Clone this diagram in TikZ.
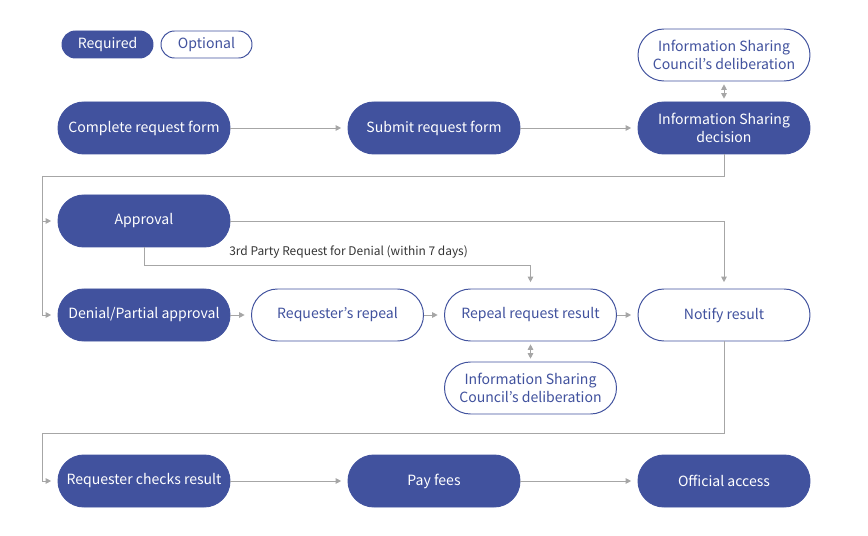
\documentclass[tikz,border=0pt]{standalone}
\usepackage{fontspec}
\setmainfont{Noto Sans CJK KR}
\usetikzlibrary{arrows.meta}
\definecolor{navy}{RGB}{65,82,158}
\definecolor{wire}{RGB}{166,166,166}
\definecolor{ink}{RGB}{51,51,51}
\tikzset{
  req/.style={draw=navy, fill=navy, text=white, line width=0.7pt, rounded corners=0.65cm,
    minimum width=4.3cm, minimum height=1.3cm, inner sep=0pt, align=center,
    font=\fontsize{10}{12.8}\selectfont},
  opt/.style={req, fill=white, text=navy},
  tag/.style={draw=navy, line width=0.7pt, rounded corners=0.3375cm,
    minimum width=2.275cm, minimum height=0.675cm, inner sep=0pt,
    font=\fontsize{10}{12.8}\selectfont},
  flow/.style={draw=wire, line width=0.7pt, -{Triangle[length=4pt,width=4pt]}, shorten >=4.5pt},
  both/.style={draw=wire, line width=0.7pt, {Triangle[length=4pt,width=4pt]}-{Triangle[length=4pt,width=4pt]},
    shorten >=2pt, shorten <=2pt},
  lbl/.style={text=ink, inner sep=0pt, font=\fontsize{8.5}{10}\selectfont}
}
\begin{document}
\begin{tikzpicture}
      \useasboundingbox (0,0) rectangle (21.7,-13.4);

      % legend
      \node[tag, fill=navy, text=white] (REQ) at (2.6875, -1.1125) {Required};
      \node[tag, fill=white, text=navy] (OPT) at (5.1625, -1.1125) {Optional};

      % steps
      \node[req] (CRF) at (3.6, -3.2) {Complete request form};
      \node[req] (SRF) at (10.85, -3.2) {Submit request form};
      \node[req] (ISD) at (18.1, -3.2) {Information Sharing\\decision};
      \node[opt] (ICD) at (18.1, -1.375) {Information Sharing\\Council’s deliberation};
      \node[req] (APP) at (3.6, -5.525) {Approval};
      \node[req] (DEN) at (3.6, -7.875) {Denial/Partial approval};
      \node[opt] (RRP) at (8.4375, -7.875) {Requester’s repeal};
      \node[opt] (RRR) at (13.2625, -7.875) {Repeal request result};
      \node[opt] (NTF) at (18.1, -7.875) {Notify result};
      \node[opt] (ICDB) at (13.2625, -9.7) {Information Sharing\\Council’s deliberation};
      \node[req] (RCR) at (3.6, -12.025) {Requester checks result};
      \node[req] (PAY) at (10.85, -12.025) {Pay fees};
      \node[req] (OFA) at (18.1, -12.025) {Official access};

      \node[lbl, anchor=west] (TPR) at (5.725, -6.3) {3rd Party Request for Denial (within 7 days)};

      \coordinate (C1) at (1.05, -4.4);
      \coordinate (C2) at (3.6, -6.625);
      \coordinate (C3) at (1.05, -10.825);

      \draw[flow] (CRF) to (SRF);
      \draw[flow] (SRF) to (ISD);
      \draw[both] (ICD) to (ISD);
      \draw[flow] (ISD.south) |- (C1) |- (DEN.west);
      \draw[flow] (C1) |- (APP.west);
      \draw[flow] (APP.east) -| (NTF.north);
      \draw[flow] (APP.south) -- (C2) -| (RRR.north);
      \draw[flow] (DEN) to (RRP);
      \draw[flow] (RRP) to (RRR);
      \draw[flow] (RRR) to (NTF);
      \draw[both] (RRR) to (ICDB);
      \draw[flow] (NTF.south) |- (C3) |- (RCR.west);
      \draw[flow] (RCR) to (PAY);
      \draw[flow] (PAY) to (OFA);
    \end{tikzpicture}
\end{document}
